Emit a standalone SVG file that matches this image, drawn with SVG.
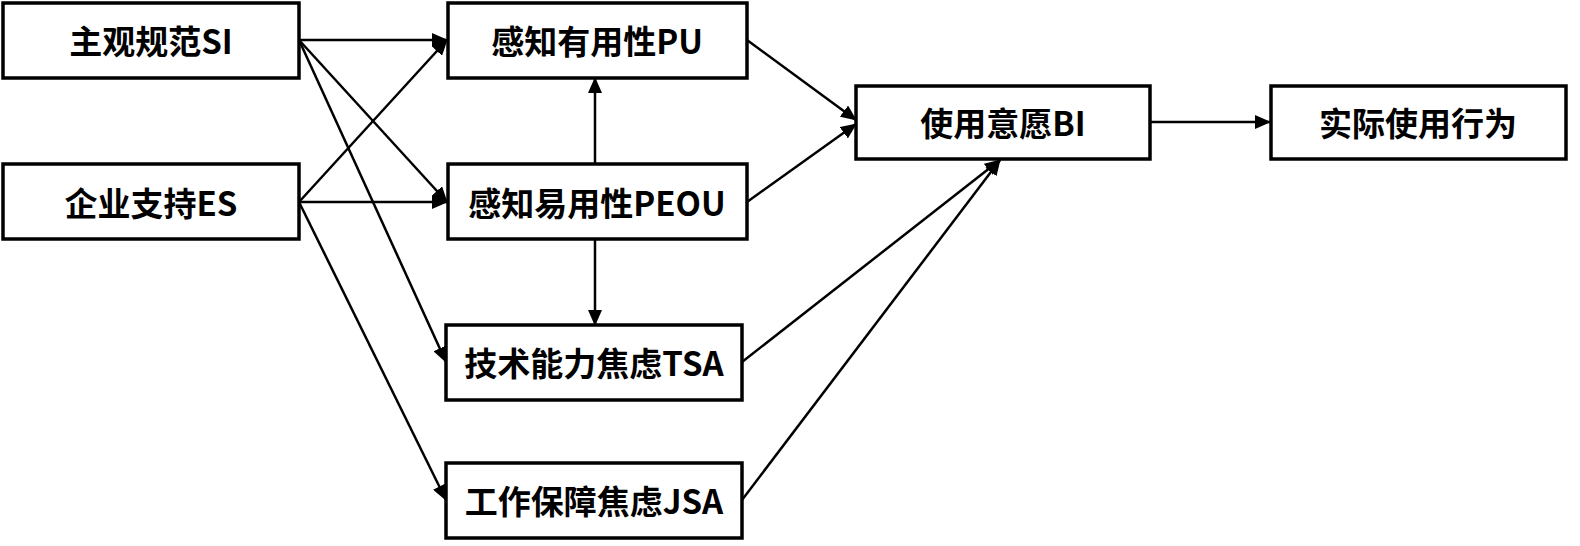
<svg xmlns="http://www.w3.org/2000/svg" width="1580" height="546" viewBox="0 0 1580 546">
<style>
.box{fill:#fff;stroke:#000;stroke-width:3.5}
.lbl{font-family:"Noto Sans CJK SC","Liberation Sans",sans-serif;font-weight:bold;font-size:33px;fill:#000;text-anchor:middle;dominant-baseline:central}
.con line{stroke:#000;stroke-width:2.5;marker-end:url(#ah)}
</style>
<defs>
<marker id="ah" markerUnits="userSpaceOnUse" markerWidth="16" markerHeight="14" refX="15" refY="7" orient="auto" viewBox="0 0 16 14">
<path d="M0,0 L16,7 L0,14 z" fill="#000"/>
</marker>
</defs>
<rect width="1580" height="546" fill="#fff"/>
<g id="connectors" class="con">
<line x1="299" y1="40" x2="447" y2="40"/>
<line x1="299" y1="40" x2="447" y2="202"/>
<line x1="299" y1="40" x2="446" y2="362"/>
<line x1="299" y1="202" x2="447" y2="40"/>
<line x1="299" y1="202" x2="447" y2="202"/>
<line x1="299" y1="202" x2="446" y2="500"/>
<line x1="595" y1="164" x2="595" y2="78"/>
<line x1="595" y1="239" x2="595" y2="325"/>
<line x1="747" y1="40" x2="856" y2="120"/>
<line x1="747" y1="202" x2="856" y2="124"/>
<line x1="742" y1="362" x2="1000" y2="160"/>
<line x1="742" y1="500" x2="1000" y2="160"/>
<line x1="1150" y1="122" x2="1270" y2="122"/>
</g>
<g id="SI"><rect class="box" x="3" y="3" width="296" height="75"/><text class="lbl" x="151" y="40">主观规范SI</text></g>
<g id="ES"><rect class="box" x="3" y="164" width="296" height="75"/><text class="lbl" x="151" y="202">企业支持ES</text></g>
<g id="PU"><rect class="box" x="448" y="3" width="299" height="75"/><text class="lbl" x="597" y="40">感知有用性PU</text></g>
<g id="PEOU"><rect class="box" x="448" y="164" width="299" height="75"/><text class="lbl" x="597" y="202">感知易用性PEOU</text></g>
<g id="TSA"><rect class="box" x="446" y="325" width="296" height="75"/><text class="lbl" x="594" y="362">技术能力焦虑TSA</text></g>
<g id="JSA"><rect class="box" x="446" y="463" width="296" height="75"/><text class="lbl" x="594" y="500">工作保障焦虑JSA</text></g>
<g id="BI"><rect class="box" x="856" y="86" width="294" height="73"/><text class="lbl" x="1003" y="122">使用意愿BI</text></g>
<g id="AU"><rect class="box" x="1271" y="86" width="295" height="73"/><text class="lbl" x="1418" y="122">实际使用行为</text></g>
</svg>
